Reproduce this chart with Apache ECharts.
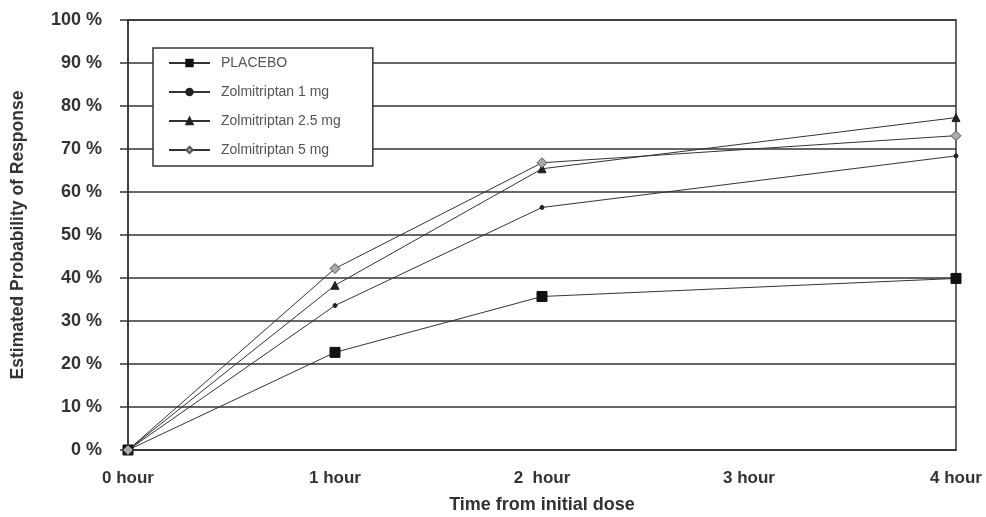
<!DOCTYPE html>
<html><head><meta charset="utf-8">
<script src="https://cdn.jsdelivr.net/npm/echarts@6/dist/echarts.min.js"></script>
<style>html,body{margin:0;padding:0;background:#fff}#c{width:986px;height:517px}</style>
</head><body><div id="c"></div>
<script>
const categories = ['0 hour', '1 hour', '2  hour', '3 hour', '4 hour'];
const yTicks = [0, 10, 20, 30, 40, 50, 60, 70, 80, 90, 100];
const placebo = [0, 22.7, 35.7, null, 39.9];
const zol1 = [0, 33.6, 56.4, null, 68.4];
const zol25 = [0, 38.3, 65.4, null, 77.3];
const zol5 = [0, 42.2, 66.8, null, 73.1];
const seriesNames = ['PLACEBO', 'Zolmitriptan 1 mg', 'Zolmitriptan 2.5 mg', 'Zolmitriptan 5 mg'];

const FONT = '"Liberation Sans", Arial, sans-serif';
const chart = echarts.init(document.getElementById('c'), null, {renderer: 'canvas'});

function mk(name, data, symbol, size, fill, border) {
  return {
    name: name, type: 'line', data: data, connectNulls: true,
    symbol: symbol, symbolSize: size, showSymbol: true,
    lineStyle: {color: '#333', width: 1},
    itemStyle: {color: fill, borderColor: border, borderWidth: 1},
    emphasis: {disabled: true},
    z: 3
  };
}

chart.setOption({
  animation: false,
  backgroundColor: '#fff',
  grid: {left: 128, right: 30, top: 20, bottom: 67, show: true, borderColor: '#333', borderWidth: 1.5,
    containLabel: false, outerBoundsMode: 'none'},
  legend: {
    orient: 'vertical', left: 153, top: 48,
    backgroundColor: '#fff', borderColor: '#333', borderWidth: 1.5,
    padding: [8, 32, 9, 15],
    itemWidth: 41, itemHeight: 8, itemGap: 15,
    data: seriesNames,
    textStyle: {fontFamily: FONT, fontSize: 14, lineHeight: 14, color: '#555', padding: [0, 0, 0, 6]}
  },
  xAxis: {
    type: 'category', data: categories, boundaryGap: false,
    axisLine: {show: true, lineStyle: {color: '#333', width: 1.5}},
    axisTick: {show: false},
    splitLine: {show: false},
    axisLabel: {fontFamily: FONT, fontWeight: 'bold', fontSize: 17, color: '#333', margin: 20},
    name: 'Time from initial dose', nameLocation: 'middle', nameGap: 46,
    nameTextStyle: {fontFamily: FONT, fontWeight: 'bold', fontSize: 18, color: '#333'}
  },
  yAxis: {
    type: 'value', min: 0, max: 100, interval: 10,
    axisLine: {show: true, lineStyle: {color: '#333', width: 1.5}},
    axisTick: {show: true, length: 8, lineStyle: {color: '#333', width: 1.5}},
    splitLine: {show: true, lineStyle: {color: '#333', width: 1.5}},
    axisLabel: {fontFamily: FONT, fontWeight: 'bold', fontSize: 18, color: '#333', margin: 26,
      formatter: v => (yTicks.indexOf(v) >= 0 ? v + ' %' : '')},
    name: 'Estimated Probability of Response', nameLocation: 'middle', nameGap: 101, nameRotate: 90,
    nameTextStyle: {fontFamily: FONT, fontWeight: 'bold', fontSize: 17.5, color: '#333'}
  },
  series: [
    mk(seriesNames[0], placebo, 'rect', 10, '#111', '#111'),
    mk(seriesNames[1], zol1, 'circle', 4, '#222', '#222'),
    mk(seriesNames[2], zol25, 'triangle', 8, '#222', '#222'),
    mk(seriesNames[3], zol5, 'diamond', 10, '#aaa', '#555')
  ]
});
</script></body></html>
